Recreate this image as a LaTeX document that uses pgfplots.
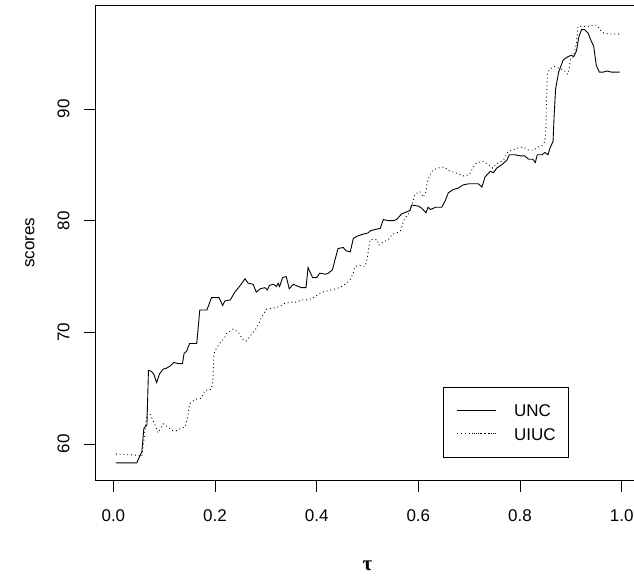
\documentclass[border=0pt]{standalone}
\usepackage{pgfplots}
\pgfplotsset{compat=1.18}
\usepackage{fontspec}
\setmainfont{Liberation Sans}
\newfontfamily\greekserif{Liberation Serif}

\pgfplotstableread{
x y
0.005 58.31
0.046 58.31
0.056 59.3
0.060 61.4
0.066 61.7
0.069 66.6
0.075 66.5
0.080 66.2
0.085 65.5
0.091 66.3
0.098 66.7
0.105 66.8
0.112 67.0
0.119 67.3
0.128 67.2
0.136 67.2
0.139 68.1
0.144 68.3
0.150 69.0
0.164 69.0
0.170 72.0
0.184 72.0
0.193 73.1
0.208 73.1
0.215 72.4
0.219 72.8
0.230 72.9
0.239 73.6
0.248 74.1
0.259 74.8
0.265 74.4
0.275 74.3
0.281 73.6
0.289 73.9
0.298 74.0
0.303 73.8
0.307 74.2
0.315 74.3
0.321 74.1
0.324 74.4
0.327 74.1
0.333 74.9
0.340 75.0
0.346 73.9
0.354 74.3
0.364 74.1
0.370 74.0
0.379 74.0
0.383 75.8
0.392 74.9
0.400 74.9
0.406 75.3
0.417 75.2
0.423 75.3
0.431 75.6
0.436 76.5
0.442 77.5
0.452 77.6
0.458 77.3
0.466 77.2
0.472 78.4
0.479 78.6
0.492 78.8
0.501 78.9
0.506 79.1
0.514 79.2
0.525 79.3
0.531 80.1
0.541 80.0
0.551 80.0
0.557 80.1
0.567 80.6
0.578 80.8
0.583 80.9
0.587 81.4
0.600 81.3
0.607 81.1
0.615 80.7
0.619 81.2
0.624 81.0
0.634 81.2
0.646 81.2
0.653 81.8
0.659 82.5
0.669 82.8
0.678 82.9
0.688 83.2
0.699 83.3
0.708 83.3
0.718 83.3
0.725 83.0
0.731 83.9
0.737 84.2
0.741 84.4
0.748 84.3
0.754 84.7
0.764 85.0
0.774 85.4
0.779 85.9
0.790 85.9
0.800 85.8
0.809 85.8
0.817 85.5
0.825 85.5
0.830 85.2
0.834 85.9
0.843 85.9
0.849 86.1
0.855 85.9
0.859 86.5
0.865 87.1
0.867 89.3
0.870 91.8
0.876 93.3
0.885 94.4
0.895 94.7
0.901 94.8
0.906 94.7
0.911 95.2
0.916 96.5
0.921 97.1
0.927 97.1
0.934 96.8
0.939 96.2
0.945 95.6
0.950 93.9
0.956 93.3
0.964 93.3
0.971 93.4
0.980 93.3
0.996 93.3
}\unc

\pgfplotstableread{
x y
0.005 59.1
0.046 59.0
0.056 58.9
0.059 60.0
0.062 61.1
0.066 62.7
0.072 62.7
0.078 62.1
0.084 61.5
0.088 61.0
0.098 61.8
0.108 61.5
0.116 61.2
0.125 61.2
0.133 61.4
0.141 61.5
0.146 62.4
0.150 63.6
0.161 64.0
0.173 64.1
0.180 64.8
0.193 64.9
0.196 65.9
0.198 68.1
0.203 68.6
0.209 69.0
0.217 69.4
0.223 69.9
0.236 70.3
0.246 70.0
0.254 69.4
0.261 69.2
0.268 69.6
0.282 70.4
0.292 71.4
0.302 72.1
0.318 72.2
0.327 72.3
0.337 72.6
0.351 72.7
0.361 72.7
0.370 72.9
0.380 72.9
0.390 73.0
0.400 73.3
0.410 73.6
0.420 73.7
0.429 73.8
0.439 73.9
0.449 74.1
0.459 74.4
0.467 74.8
0.472 75.3
0.476 75.9
0.484 76.0
0.495 75.9
0.499 76.5
0.501 77.1
0.503 77.7
0.505 78.3
0.519 78.3
0.522 77.8
0.531 78.1
0.541 78.3
0.549 78.8
0.557 78.9
0.565 79.1
0.569 79.7
0.573 80.2
0.581 80.6
0.587 81.4
0.594 82.4
0.603 82.6
0.610 82.1
0.615 82.6
0.617 83.3
0.621 83.9
0.626 84.4
0.637 84.7
0.651 84.8
0.659 84.5
0.666 84.4
0.678 84.2
0.689 84.0
0.700 84.1
0.707 84.7
0.715 85.2
0.728 85.3
0.739 85.0
0.746 84.7
0.754 85.1
0.767 85.4
0.777 86.2
0.796 86.5
0.806 86.6
0.817 86.3
0.826 86.3
0.836 86.6
0.843 86.7
0.849 87.1
0.851 88.4
0.852 90.8
0.854 93.2
0.859 93.6
0.868 93.8
0.879 93.6
0.886 93.5
0.894 93.1
0.897 93.6
0.899 94.4
0.905 94.7
0.911 95.9
0.914 97.4
0.924 97.4
0.934 97.4
0.943 97.5
0.952 97.5
0.957 97.1
0.965 96.8
0.977 96.7
0.995 96.7
}\uiuc

\begin{document}
\begin{tikzpicture}
\useasboundingbox (-95.7pt,-95.5pt) rectangle (538.3pt,480.5pt);
\begin{axis}[
  at={(0pt,0pt)}, anchor=south west,
  scale only axis, width=546.2pt, height=475.5pt,
  xmin=-0.0348, xmax=1.0398, ymin=56.73, ymax=99.31,
  xtick={0,0.2,0.4,0.6,0.8,1.0},
  xticklabels={0.0,0.2,0.4,0.6,0.8,1.0},
  ytick={60,70,80,90},
  yticklabels={60,70,80,90},
  tick align=outside, xtick pos=bottom, ytick pos=left,
  major tick length=11.5pt,
  every tick/.style={black, line width=0.8pt},
  axis line style={line width=0.8pt},
  tick label style={font=\fontsize{17}{20}\selectfont, inner sep=0pt},
  xticklabel style={anchor=north},
  yticklabel style={rotate=90, anchor=south},
  xticklabel shift=17.5pt,
  yticklabel shift=14.5pt,
  xlabel={{\greekserif\bfseries τ}},
  ylabel={scores},
  label style={font=\fontsize{17}{20}\selectfont, inner sep=0pt},
  xlabel style={at={(axis description cs:0.4976,-0.1798)}, anchor=center,
    font=\fontsize{21}{24}\selectfont},
  ylabel style={at={(axis description cs:-0.1203,0.5)}, anchor=center},
  legend style={
    at={(axis description cs:0.6364,0.0488)}, anchor=south west,
    draw=black, line width=0.8pt, fill=white,
    inner xsep=13pt, inner ysep=16.8pt,
    row sep=10.8pt, column sep=17.7pt,
    font=\fontsize{17}{20}\selectfont,
    nodes={inner sep=0pt, text height=12.5pt, text depth=0pt},
    cells={anchor=west},
  },
  legend image code/.code={
    \path (0pt,0pt) -- (38.7pt,0pt);
    \draw[#1] (16.7pt,0pt) -- (38.7pt,0pt);
  },
]
\addplot[black, line width=0.9pt] table[x=x,y=y] {\unc};
\addlegendentry{UNC}
\addplot[black, line width=0.9pt, dash pattern=on 0.9pt off 2.9pt] table[x=x,y=y] {\uiuc};
\addlegendentry{UIUC}
\end{axis}
\end{tikzpicture}
\end{document}
